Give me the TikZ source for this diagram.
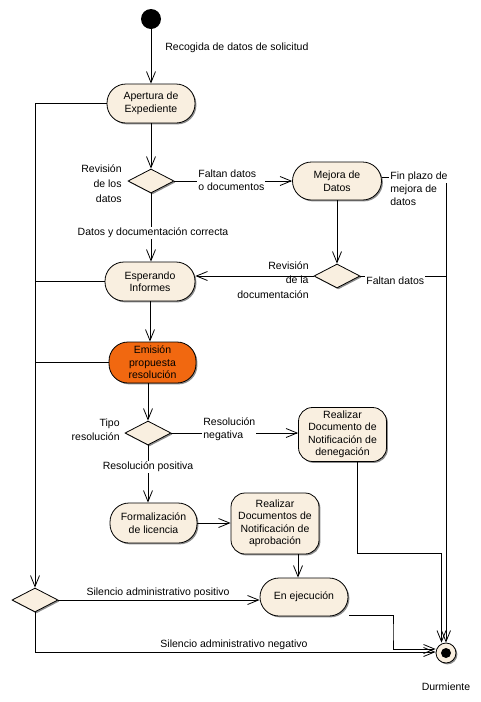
\documentclass[tikz,border=0pt]{standalone}
\usepackage{fontspec}
\setmainfont{Liberation Sans}
\usetikzlibrary{arrows.meta,shapes.geometric,shadows}
\definecolor{cream}{RGB}{249,239,224}
\definecolor{emit}{RGB}{241,104,16}
\begin{document}
\begin{tikzpicture}[x=1pt,y=-1pt,line width=0.8pt,
  every node/.style={font=\fontsize{10.5}{12.5}\selectfont},
  shade3d/.style={drop shadow={shadow xshift=1.4pt,shadow yshift=-1.4pt,fill=black!45,opacity=1}},
  act/.style={draw=black,fill=cream,rounded corners=#1,align=center,inner sep=0pt,shade3d},
  act/.default=19pt,
  dec/.style={diamond,draw=black,fill=cream,minimum width=46pt,minimum height=24pt,inner sep=0pt,shade3d},
  arr/.style={-{Straight Barb[length=11pt,width=9pt]}},
  lbl/.style={inner sep=1pt},
  cover/.style={lbl,fill=white},
]
\useasboundingbox (0,0) rectangle (481,702);

% states
\node[circle,fill=black,minimum size=20pt,inner sep=0pt] (ini) at (151,19) {};
\node[act,minimum width=88pt,minimum height=39pt] (apertura) at (151,103.5) {Apertura de\\Expediente};
\node[dec] (d1) at (151,181) {};
\node[act,minimum width=89pt,minimum height=38pt] (mejora) at (337,181) {Mejora de\\Datos};
\node[dec] (d2) at (337,276) {};
\node[act,minimum width=90pt,minimum height=39pt] (esperando) at (150,281.5) {Esperando\\Informes};
\node[act,fill=emit,minimum width=87pt,minimum height=41pt] (emision) at (152.5,362.5) {Emisión\\propuesta\\resolución};
\node[dec] (d3) at (148,433) {};
\node[act=14pt,minimum width=88pt,minimum height=54pt] (deneg) at (342.5,434.5) {Realizar\\Documento de\\Notificación de\\denegación};
\node[act,minimum width=87pt,minimum height=40pt] (formal) at (153.5,523) {Formalización\\de licencia};
\node[act=14pt,minimum width=88pt,minimum height=61pt] (aprob) at (275,523.5) {Realizar\\Documentos de\\Notificación de\\aprobación};
\node[act,minimum width=88pt,minimum height=38pt] (ejec) at (304,597) {En ejecución};
\node[dec] (d4) at (35,600) {};
\node[circle,draw=black,fill=cream,minimum size=20pt,inner sep=0pt,shade3d] (fin) at (446,653) {};
\node[circle,fill=black,minimum size=10pt,inner sep=0pt] (fincore) at (fin.center) {};

\coordinate (cden) at (441.5,553);
\coordinate (bend) at (393,632);

% transitions
\draw[arr] (ini) -- (apertura);
\draw[arr] (apertura) -- (d1);
\draw[arr] (d1) -- (mejora);
\draw[arr] (mejora) -- (d2);
\draw[arr] (d2.west) -- (d2.west -| esperando.east);
\draw[arr] (d1.south) -- (d1.south |- esperando.north);
\draw[arr] (esperando.south) -- (esperando.south |- emision.north);
\draw[arr] (d3.north |- emision.south) -- (d3.north);
\draw[arr] (d3.east) -- (d3.east -| deneg.west);
\draw[arr] (d3.south) -- (d3.south |- formal.north);
\draw[arr] (formal.east) -- (formal.east -| aprob.west);
\draw[arr] ([xshift=23pt]aprob.south) -- ([xshift=23pt]aprob.south |- ejec.north);
\draw[arr] (d4.east) -- (d4.east -| ejec.west);
\draw[arr] (apertura.west) -| (d4.north);
\draw (esperando.west) -- (esperando.west -| d4.north);
\draw (emision.west) -- (emision.west -| d4.north);
\draw[arr] ([yshift=4pt]mejora.east) -| (fin.north);
\draw (d2.east) -- (d2.east -| fin.north);
\draw[arr] ([xshift=14.5pt]deneg.south) |- (cden) -- (cden |- fin.north);
\draw[arr] ([xshift=1pt,yshift=-18pt]ejec.east) -| (bend) |- ([yshift=4pt]fin.west);
\draw[arr] (d4.south) |- ([yshift=1pt]fin.west);

% guards and notes
\node[lbl,anchor=west] (lrec) at (164,48) {Recogida de datos de solicitud};
\node[lbl,anchor=east,align=right,font=\fontsize{10.5}{15}\selectfont] (lrev1) at (123,184) {Revisión\\de los\\datos};
\node[cover,anchor=west,align=left,font=\fontsize{10.5}{13}\selectfont] (lfal1) at (197,180.5) {Faltan datos\\o documentos};
\node[cover,anchor=west] (lfin) at (389,177) {Fin plazo de};
\node[lbl,anchor=north west,align=left,font=\fontsize{10.5}{13}\selectfont] (lfin2) at (389,183.5) {mejora de\\datos};
\node[cover] (lcorr) at (153,233) {Datos y documentación correcta};
\node[lbl,anchor=east,align=right,font=\fontsize{10.5}{14.5}\selectfont] (lrev2) at (310,280) {Revisión\\de la\\documentación};
\node[cover,anchor=west] (lfal2) at (365,281) {Faltan datos};
\node[lbl,anchor=east,align=right,font=\fontsize{10.5}{14}\selectfont] (ltipo) at (121,429.5) {Tipo\\resolución};
\node[cover,anchor=west,align=left,font=\fontsize{10.5}{13}\selectfont] (lneg) at (202,429.5) {Resolución\\negativa};
\node[cover] (lpos) at (148,467) {Resolución positiva};
\node[lbl] (lsilp) at (158,593) {Silencio administrativo positivo};
\node[lbl] (lsiln) at (234,645) {Silencio administrativo negativo};
\node[lbl] (ldur) at (446,687) {Durmiente};
\end{tikzpicture}
\end{document}
